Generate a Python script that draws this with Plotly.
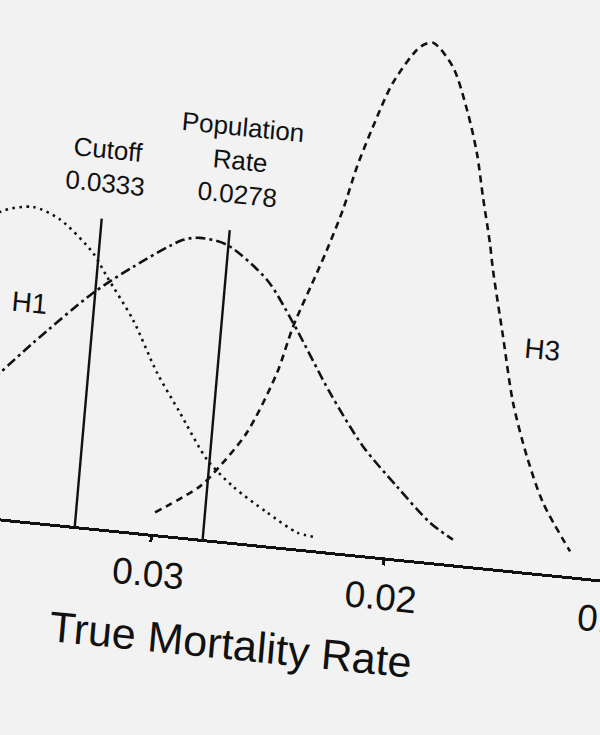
import plotly.graph_objects as go

# ---- data ----
h1_rate = [0.0387, 0.03766, 0.03627, 0.03507, 0.03354, 0.03286, 0.03159, 0.03037,
           0.02924, 0.02791, 0.02670, 0.02516, 0.02380, 0.02311]
h1_density = [0.540, 0.591, 0.607, 0.588, 0.530, 0.487, 0.409, 0.312,
              0.239, 0.154, 0.107, 0.064, 0.031, 0.026]

h2_rate = [0.0380, 0.03706, 0.03576, 0.03339, 0.03178, 0.02975, 0.02904, 0.02786,
           0.02602, 0.02476, 0.02292, 0.02131, 0.01971, 0.01817, 0.01713]
h2_density = [0.237, 0.281, 0.345, 0.453, 0.511, 0.573, 0.580, 0.572,
              0.512, 0.435, 0.307, 0.210, 0.139, 0.076, 0.048]

h3_rate = [0.02993, 0.02811, 0.02745, 0.02631, 0.02525, 0.02474, 0.02392, 0.02358,
           0.02305, 0.02261, 0.02208, 0.02139, 0.02037, 0.01983, 0.01889, 0.01813,
           0.01755, 0.01713, 0.01666, 0.01643, 0.01575, 0.01508, 0.01428, 0.01343, 0.01209]
h3_density = [0.042, 0.101, 0.137, 0.214, 0.335, 0.427, 0.536, 0.582,
              0.662, 0.748, 0.828, 0.917, 0.991, 1.002, 0.959, 0.879,
              0.798, 0.715, 0.627, 0.576, 0.449, 0.324, 0.222, 0.137, 0.048]

cutoff_rate = 0.0333
cutoff_top = 0.598
population_rate = 0.0278
population_top = 0.601

tick_values = [0.03, 0.02, 0.01]
tick_labels = ["0.03", "0.02", "0.01"]

INK = "#111111"
BG = "#f2f2f2"
FONT = "Liberation Sans, Arial, Helvetica, sans-serif"
Y_MAX = 1.12

fig = go.Figure()

fig.add_trace(go.Scatter(x=h1_rate, y=h1_density, mode="lines", name="H1",
                         line=dict(color=INK, width=2.6, dash="2.5px,4.5px",
                                   shape="spline", smoothing=0.8)))
fig.add_trace(go.Scatter(x=h2_rate, y=h2_density, mode="lines", name="H2",
                         line=dict(color=INK, width=2.6, dash="10px,4px,3px,4px",
                                   shape="spline", smoothing=0.8)))
fig.add_trace(go.Scatter(x=h3_rate, y=h3_density, mode="lines", name="H3",
                         line=dict(color=INK, width=2.6, dash="7px,5px",
                                   shape="spline", smoothing=0.8)))

fig.add_trace(go.Scatter(x=[cutoff_rate, cutoff_rate], y=[0, cutoff_top], mode="lines",
                         line=dict(color=INK, width=2.4)))
fig.add_trace(go.Scatter(x=[population_rate, population_rate], y=[0, population_top],
                         mode="lines", line=dict(color=INK, width=2.4)))

annots = [
    dict(x=0.03328, y=0.700, text="Cutoff<br>0.0333", size=26),
    dict(x=0.02762, y=0.736, text="Population<br>Rate<br>0.0278", size=26),
    dict(x=0.03604, y=0.422, text="H1", size=28),
    dict(x=0.01404, y=0.431, text="H3", size=28),
    dict(x=0.02620, y=-0.198, text="True Mortality Rate", size=43),
]
for a in annots:
    fig.add_annotation(x=a["x"], y=a["y"] / Y_MAX, xref="x", yref="paper", text=a["text"],
                       showarrow=False, xanchor="center", yanchor="middle",
                       font=dict(family=FONT, size=a["size"], color=INK))

fig.update_layout(
    width=670, height=795,
    margin=dict(l=0, r=0, t=0, b=217, autoexpand=False),
    paper_bgcolor=BG, plot_bgcolor=BG,
    showlegend=False,
    xaxis=dict(range=[0.038626, 0.009956], showgrid=False, zeroline=False,
               automargin=False,
               showline=True, linewidth=3, linecolor=INK,
               ticks="outside", ticklen=5, tickwidth=2.5, tickcolor=INK,
               tickvals=tick_values, ticktext=tick_labels,
               ticklabelstandoff=0, ticklabeloverflow="allow",
               tickfont=dict(family=FONT, size=37, color=INK)),
    yaxis=dict(range=[0, Y_MAX], visible=False, automargin=False),
)

post = """
var gd = document.getElementById('{plot_id}');
document.documentElement.style.background = '#f2f2f2';
document.body.style.margin = '0';
document.body.style.background = '#f2f2f2';
document.body.style.overflow = 'hidden';
gd.style.position = 'absolute';
gd.style.left = '-35px';
gd.style.top = '-30px';
gd.style.transformOrigin = '50% 50%';
gd.style.transform = 'matrix(0.99488,0.10106,-0.08716,0.99619,0,0)';
"""

fig.write_html("out.html", config={"displayModeBar": False}, post_script=post)
